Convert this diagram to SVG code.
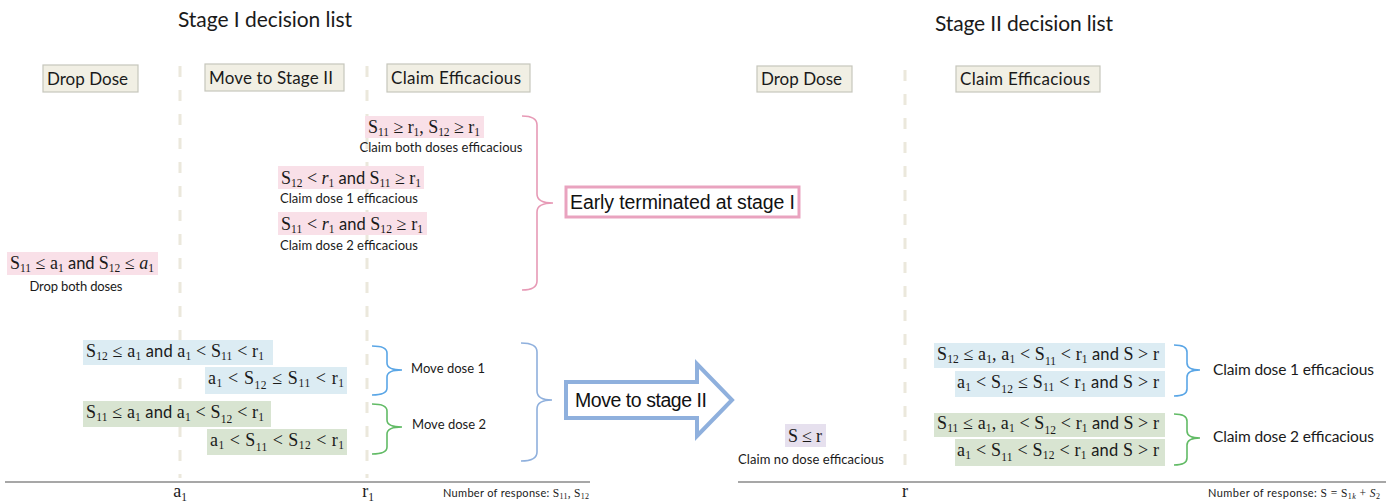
<svg xmlns="http://www.w3.org/2000/svg" width="1397" height="502" viewBox="0 0 1397 502">
<style>
.title{font-family:Lato,"Noto Sans",sans-serif;font-size:21px;fill:#1a1a1a}
.hdr{font-family:Lato,"Noto Sans",sans-serif;font-size:17px;fill:#1a1a1a}
.hbox{fill:#f1efe4;stroke:#c6c6bc;stroke-width:1.2}
.lbl{font-family:Lato,"Noto Sans",sans-serif;font-size:13px;fill:#1a1a1a}
.lbl2{font-family:Lato,"Noto Sans",sans-serif;font-size:15.5px;fill:#1a1a1a}
.m{font-family:"Liberation Serif","Times New Roman",serif;font-size:18px;fill:#1a1a1a}
.s{font-size:11.5px}
.i{font-style:italic}
.and{font-family:Lato,"Noto Sans",sans-serif;font-size:16.5px}
.pink{fill:#f9e0e8}
.blue{fill:#dcecf3}
.green{fill:#d8e4d1}
.lav{fill:#e6e0ee}
.dash{stroke:#ebe8dc;stroke-width:3;stroke-dasharray:11 13;fill:none}
.axis{stroke:#8a8a8a;stroke-width:1.3}
.brace{fill:none;stroke-width:1.6}
.big{font-family:"Liberation Sans",Arial,sans-serif;font-size:19.5px;fill:#111}
.small{font-family:Lato,"Noto Sans",sans-serif;font-size:11px;fill:#1a1a1a}
.sm{font-family:"Liberation Serif",serif;font-size:11.5px}
.ss{font-size:8px}
</style>

<g id="titles">
<text class="title" x="178" y="27" textLength="174">Stage I decision list</text>
<text class="title" x="935" y="31" textLength="178">Stage II decision list</text>
</g>

<g id="grid">
<line class="dash" x1="180" y1="66" x2="180" y2="478"/>
<line class="dash" x1="367" y1="66" x2="367" y2="478"/>
<line class="dash" x1="905" y1="70" x2="905" y2="478"/>
<line class="axis" x1="5" y1="482" x2="590" y2="482"/>
<line class="axis" x1="738" y1="482" x2="1386" y2="482"/>
</g>

<g id="hdr-drop1"><rect class="hbox" x="43" y="65" width="95" height="27"/><text class="hdr" x="47" y="85" textLength="81">Drop Dose</text></g>
<g id="hdr-move1"><rect class="hbox" x="205" y="64" width="139" height="27"/><text class="hdr" x="209" y="84" textLength="124">Move to Stage II</text></g>
<g id="hdr-claim1"><rect class="hbox" x="387" y="64" width="143" height="28"/><text class="hdr" x="391" y="84" textLength="130">Claim Efficacious</text></g>
<g id="hdr-drop2"><rect class="hbox" x="757" y="66" width="95" height="26"/><text class="hdr" x="761" y="85" textLength="81">Drop Dose</text></g>
<g id="hdr-claim2"><rect class="hbox" x="956" y="66" width="144" height="26"/><text class="hdr" x="960" y="85" textLength="130">Claim Efficacious</text></g>

<g id="n-both">
<rect class="pink" x="365" y="116" width="119" height="22"/>
<text class="m" x="368" y="133" textLength="112">S<tspan class="s" dy="3">11</tspan><tspan dy="-3"> ≥ r</tspan><tspan class="s" dy="3">1</tspan><tspan dy="-3">, S</tspan><tspan class="s" dy="3">12</tspan><tspan dy="-3"> ≥ r</tspan><tspan class="s" dy="3">1</tspan></text>
<text class="lbl" x="441" y="152" text-anchor="middle" textLength="163">Claim both doses efficacious</text>
</g>
<g id="n-dose1">
<rect class="pink" x="278" y="166" width="146" height="23"/>
<text class="m" x="281" y="184" textLength="140">S<tspan class="s" dy="3">12</tspan><tspan dy="-3"> &lt; </tspan><tspan class="i">r</tspan><tspan class="s" dy="3">1</tspan><tspan class="and" dy="-3"> and </tspan>S<tspan class="s" dy="3">11</tspan><tspan dy="-3"> ≥ r</tspan><tspan class="s" dy="3">1</tspan></text>
<text class="lbl" x="280" y="203" textLength="138">Claim dose 1 efficacious</text>
</g>
<g id="n-dose2">
<rect class="pink" x="278" y="212" width="149" height="23"/>
<text class="m" x="281" y="230" textLength="142">S<tspan class="s" dy="3">11</tspan><tspan dy="-3"> &lt; </tspan><tspan class="i">r</tspan><tspan class="s" dy="3">1</tspan><tspan class="and" dy="-3"> and </tspan>S<tspan class="s" dy="3">12</tspan><tspan dy="-3"> ≥ r</tspan><tspan class="s" dy="3">1</tspan></text>
<text class="lbl" x="280" y="250" textLength="138">Claim dose 2 efficacious</text>
</g>
<g id="n-dropboth">
<rect class="pink" x="7" y="252" width="151" height="23"/>
<text class="m" x="10" y="269" textLength="144">S<tspan class="s" dy="3">11</tspan><tspan dy="-3"> ≤ a</tspan><tspan class="s" dy="3">1</tspan><tspan class="and" dy="-3"> and </tspan>S<tspan class="s" dy="3">12</tspan><tspan dy="-3"> ≤ </tspan><tspan class="i">a</tspan><tspan class="s" dy="3">1</tspan></text>
<text class="lbl" x="76" y="291" text-anchor="middle" textLength="93">Drop both doses</text>
</g>

<g id="n-move1a">
<rect class="blue" x="83" y="340" width="190" height="25"/>
<text class="m" x="86" y="357" textLength="178">S<tspan class="s" dy="3">12</tspan><tspan dy="-3"> ≤ a</tspan><tspan class="s" dy="3">1</tspan><tspan class="and" dy="-3"> and </tspan>a<tspan class="s" dy="3">1</tspan><tspan dy="-3"> &lt; S</tspan><tspan class="s" dy="3">11</tspan><tspan dy="-3"> &lt; r</tspan><tspan class="s" dy="3">1</tspan></text>
</g>
<g id="n-move1b">
<rect class="blue" x="205" y="367" width="142" height="27"/>
<text class="m" x="208" y="384" textLength="136">a<tspan class="s" dy="3">1</tspan><tspan dy="-3"> &lt; S</tspan><tspan class="s" dy="5">12</tspan><tspan dy="-5"> ≤  S</tspan><tspan class="s" dy="3">11</tspan><tspan dy="-3"> &lt; r</tspan><tspan class="s" dy="3">1</tspan></text>
</g>
<g id="n-move2a">
<rect class="green" x="83" y="401" width="188" height="26"/>
<text class="m" x="86" y="418" textLength="178">S<tspan class="s" dy="3">11</tspan><tspan dy="-3"> ≤ a</tspan><tspan class="s" dy="3">1</tspan><tspan class="and" dy="-3"> and </tspan>a<tspan class="s" dy="3">1</tspan><tspan dy="-3"> &lt; S</tspan><tspan class="s" dy="5">12</tspan><tspan dy="-5"> &lt; r</tspan><tspan class="s" dy="3">1</tspan></text>
</g>
<g id="n-move2b">
<rect class="green" x="207" y="429" width="140" height="26"/>
<text class="m" x="210" y="446" textLength="134">a<tspan class="s" dy="3">1</tspan><tspan dy="-3"> &lt; S</tspan><tspan class="s" dy="5">11</tspan><tspan dy="-5"> &lt;  S</tspan><tspan class="s" dy="3">12</tspan><tspan dy="-3"> &lt; r</tspan><tspan class="s" dy="3">1</tspan></text>
</g>

<g id="n-early">
<rect x="566" y="187" width="233" height="30" fill="#fff" stroke="#e9a3bf" stroke-width="3"/>
<text class="big" x="570" y="209" textLength="225">Early terminated at stage I</text>
</g>

<g id="n-arrow">
<polygon points="566,382 697,382 697,364 732,400 697,436 697,418 566,418" fill="#fff" stroke="#8fb0dd" stroke-width="4" stroke-linejoin="miter"/>
<text class="big" x="575" y="407" textLength="132">Move to stage II</text>
</g>

<g id="n-nodose">
<rect class="lav" x="785" y="424" width="41" height="23"/>
<text class="m" x="788" y="442" textLength="34">S ≤ r</text>
<text class="lbl" x="811" y="464" text-anchor="middle" textLength="146">Claim no dose efficacious</text>
</g>

<g id="n-claim1a">
<rect class="blue" x="934" y="343" width="231" height="25"/>
<text class="m" x="937" y="360" textLength="222">S<tspan class="s" dy="3">12</tspan><tspan dy="-3"> ≤ a</tspan><tspan class="s" dy="3">1</tspan><tspan dy="-3">,  a</tspan><tspan class="s" dy="3">1</tspan><tspan dy="-3"> &lt; S</tspan><tspan class="s" dy="5">11</tspan><tspan dy="-5"> &lt; r</tspan><tspan class="s" dy="3">1</tspan><tspan class="and" dy="-3"> and </tspan>S &gt; r</text>
</g>
<g id="n-claim1b">
<rect class="blue" x="955" y="371" width="210" height="26"/>
<text class="m" x="957" y="388" textLength="202">a<tspan class="s" dy="3">1</tspan><tspan dy="-3"> &lt; S</tspan><tspan class="s" dy="5">12</tspan><tspan dy="-5"> ≤  S</tspan><tspan class="s" dy="3">11</tspan><tspan dy="-3"> &lt; r</tspan><tspan class="s" dy="3">1</tspan><tspan class="and" dy="-3"> and </tspan>S &gt; r</text>
</g>
<g id="n-claim2a">
<rect class="green" x="934" y="413" width="231" height="24"/>
<text class="m" x="937" y="429" textLength="222">S<tspan class="s" dy="3">11</tspan><tspan dy="-3"> ≤ a</tspan><tspan class="s" dy="3">1</tspan><tspan dy="-3">,  a</tspan><tspan class="s" dy="3">1</tspan><tspan dy="-3"> &lt; S</tspan><tspan class="s" dy="5">12</tspan><tspan dy="-5"> &lt; r</tspan><tspan class="s" dy="3">1</tspan><tspan class="and" dy="-3"> and </tspan>S &gt; r</text>
</g>
<g id="n-claim2b">
<rect class="green" x="955" y="439" width="210" height="27"/>
<text class="m" x="957" y="456" textLength="202">a<tspan class="s" dy="3">1</tspan><tspan dy="-3"> &lt; S</tspan><tspan class="s" dy="5">11</tspan><tspan dy="-5"> &lt;  S</tspan><tspan class="s" dy="3">12</tspan><tspan dy="-3"> &lt; r</tspan><tspan class="s" dy="3">1</tspan><tspan class="and" dy="-3"> and </tspan>S &gt; r</text>
</g>

<g id="connectors">
<path class="brace" stroke="#e79ab6" d="M522,116 Q537,116 537,125 L537,194 Q537,203 553,203 Q537,203 537,212 L537,281 Q537,290 522,290"/>
<path class="brace" stroke="#5aa6e6" d="M372,346 Q387,346 387,353 L387,363 Q387,370 402,370 Q387,370 387,377 L387,388 Q387,395 372,395"/>
<path class="brace" stroke="#62bb66" d="M372,404 Q387,404 387,411 L387,420 Q387,427 402,427 Q387,427 387,434 L387,447 Q387,454 372,454"/>
<path class="brace" stroke="#8fb0dd" d="M521,343 Q537,343 537,352 L537,391 Q537,400 552,400 Q537,400 537,409 L537,452 Q537,461 521,461"/>
<path class="brace" stroke="#5aa6e6" d="M1174,345 Q1187,345 1187,352 L1187,363 Q1187,370 1200,370 Q1187,370 1187,377 L1187,389 Q1187,396 1174,396"/>
<path class="brace" stroke="#62bb66" d="M1174,414 Q1187,414 1187,421 L1187,431 Q1187,438 1200,438 Q1187,438 1187,445 L1187,458 Q1187,465 1174,465"/>
</g>

<g id="brace-labels">
<text class="lbl" x="411" y="373" textLength="74">Move dose 1</text>
<text class="lbl" x="412" y="429" textLength="74">Move dose 2</text>
<text class="lbl2" x="1213" y="375" textLength="161">Claim dose 1 efficacious</text>
<text class="lbl2" x="1213" y="442" textLength="161">Claim dose 2 efficacious</text>
</g>

<g id="axis-labels">
<text class="m" x="180" y="497" text-anchor="middle" font-size="19">a<tspan class="s" dy="4">1</tspan></text>
<text class="m" x="368" y="497" text-anchor="middle" font-size="19">r<tspan class="s" dy="4">1</tspan></text>
<text class="m" x="905" y="497" text-anchor="middle" font-size="19">r</text>
<text class="small" x="443" y="497" textLength="146">Number of response: <tspan class="sm">S<tspan class="ss" dy="2">11</tspan><tspan dy="-2">, S</tspan><tspan class="ss" dy="2">12</tspan></tspan></text>
<text class="small" x="1208" y="497" textLength="172">Number of response: <tspan class="sm">S = S<tspan class="ss" dy="2">1<tspan font-style="italic">k</tspan></tspan><tspan dy="-2"> + </tspan><tspan font-style="italic">S</tspan><tspan class="ss" dy="2">2</tspan></tspan></text>
</g>
</svg>
